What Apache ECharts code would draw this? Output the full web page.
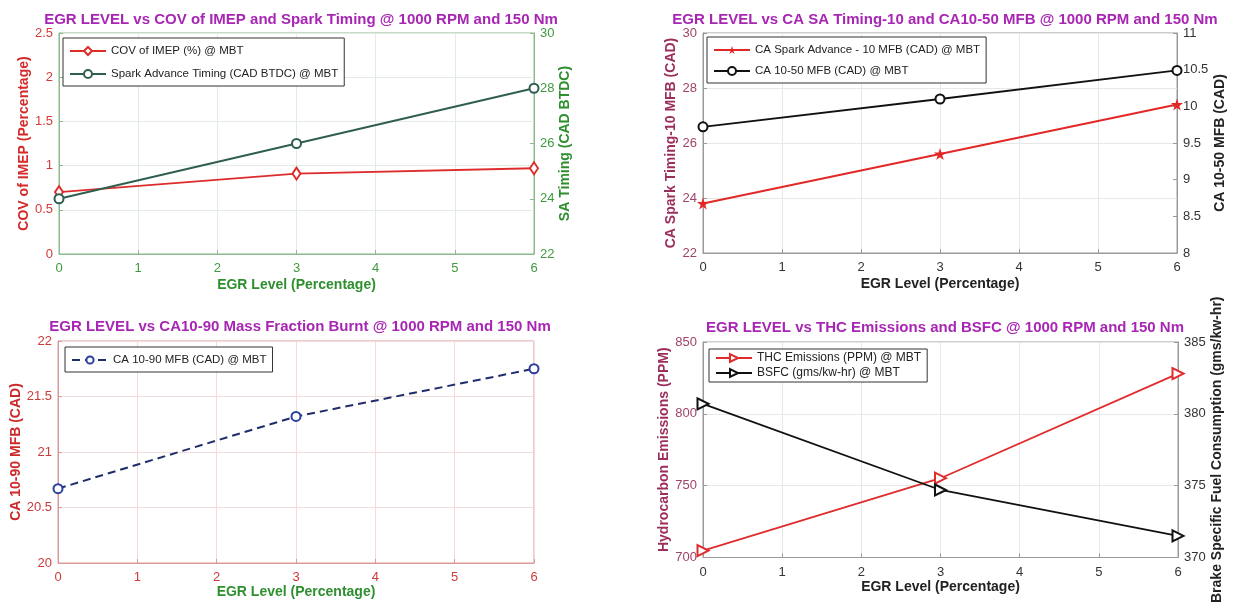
<!DOCTYPE html>
<html>
<head>
<meta charset="utf-8">
<script src="https://cdn.jsdelivr.net/npm/echarts@6/dist/echarts.min.js"></script>
<style>
  html, body { margin: 0; padding: 0; background: #fff; }
  #chart { width: 1234px; height: 605px; }
</style>
</head>
<body>
<div id="chart"></div>
<script>
// EGR sweep at 1000 RPM / 150 Nm
const egrLevels = [0, 3, 6];
const xTicks = [0, 1, 2, 3, 4, 5, 6];

const covImep = [0.70, 0.91, 0.97];          // %
const sparkAdvance = [24.0, 26.0, 28.0];     // CAD BTDC
const caSaTo10 = [23.8, 25.6, 27.4];         // CAD
const ca10to50 = [9.72, 10.10, 10.49];       // CAD
const ca10to90 = [20.67, 21.32, 21.75];      // CAD
const thcPpm = [704.8, 755.2, 828.0];        // PPM
const bsfc = [380.7, 374.7, 371.5];          // gms/kw-hr

const titles = [
  'EGR LEVEL vs COV of IMEP and Spark Timing @ 1000 RPM and 150 Nm',
  'EGR LEVEL vs CA SA Timing-10 and CA10-50 MFB @ 1000 RPM and 150 Nm',
  'EGR LEVEL vs CA10-90 Mass Fraction Burnt @ 1000 RPM and 150 Nm',
  'EGR LEVEL vs THC Emissions and BSFC @ 1000 RPM and 150 Nm'
];

const FONT = '"Liberation Sans", Arial, sans-serif';
const pts = ys => egrLevels.map((x, i) => [x, ys[i]]);
const STAR = 'path://M50,0 L61.8,35.3 L99,35.3 L69,57.1 L80.4,92.7 L50,70.6 L19.6,92.7 L31,57.1 L1,35.3 L38.2,35.3 Z';

const grids = [
  { left: 59, top: 33, width: 475, height: 221 },
  { left: 703, top: 33, width: 474, height: 220 },
  { left: 58, top: 341, width: 476, height: 222 },
  { left: 703, top: 342, width: 475, height: 221 }
];
const boxColors = ['#8fb88f', '#9a9a9a', '#d99a9a', '#9a9a9a'];

function xAxis(idx, labelColor, nameColor, gridColor, nameGap) {
  return {
    type: 'value', gridIndex: idx, min: xTicks[0], max: xTicks[xTicks.length - 1], interval: 1,
    name: 'EGR Level (Percentage)', nameLocation: 'middle', nameGap: nameGap,
    nameTextStyle: { color: nameColor, fontWeight: 'bold', fontSize: 14, fontFamily: FONT },
    axisLine: { show: true, lineStyle: { color: boxColors[idx], width: 1 } },
    axisTick: { show: true, inside: true, length: 4, lineStyle: { color: boxColors[idx] } },
    axisLabel: { color: labelColor, fontSize: 13, fontFamily: FONT, margin: 8 },
    splitLine: { show: true, lineStyle: { color: gridColor, width: 1 } }
  };
}

function yAxis(idx, pos, min, max, interval, name, color, nameColor, nameGap, gridColor) {
  return {
    type: 'value', gridIndex: idx, position: pos, min: min, max: max, interval: interval,
    name: name, nameLocation: 'middle', nameGap: nameGap, nameRotate: 90,
    nameTextStyle: { color: nameColor, fontWeight: 'bold', fontSize: 14, fontFamily: FONT },
    axisLine: { show: true, onZero: false, lineStyle: { color: boxColors[idx], width: 1 } },
    axisTick: { show: true, inside: true, length: 4, lineStyle: { color: boxColors[idx] } },
    axisLabel: { color: color, fontSize: 13, fontFamily: FONT, margin: 6 },
    splitLine: gridColor ? { show: true, lineStyle: { color: gridColor, width: 1 } } : { show: false }
  };
}

function legend(left, top, names, gap, fontSize, iconH) {
  return {
    orient: 'vertical', left: left, top: top, data: names,
    itemWidth: 36, itemHeight: iconH, itemGap: gap,
    padding: [6, 6, 5, 6],
    backgroundColor: '#fff', borderColor: '#333', borderWidth: 1, borderRadius: 0,
    textStyle: { color: '#222', fontSize: fontSize, fontFamily: FONT, lineHeight: 14 },
    selectedMode: false
  };
}

const option = {
  backgroundColor: '#fff',
  animation: false,
  title: titles.map((t, i) => ({
    text: t,
    left: [296, 940, 295, 940][i],
    top: [7, 7, 314, 315][i],
    textAlign: 'center',
    textStyle: { color: '#a826b4', fontSize: 15, fontWeight: 'bold', fontFamily: FONT }
  })),
  grid: grids.map((g, i) => Object.assign({
    show: true, borderColor: boxColors[i], borderWidth: 1, backgroundColor: 'transparent'
  }, g)),
  xAxis: [
    xAxis(0, '#3f9a3f', '#2f8f2f', '#e3ece3', 24),
    xAxis(1, '#333', '#222', '#e8e8e8', 24),
    xAxis(2, '#cc3b3b', '#2f8f2f', '#f4dcdc', 22),
    xAxis(3, '#333', '#222', '#e8e8e8', 23)
  ],
  yAxis: [
    yAxis(0, 'left', 0, 2.5, 0.5, 'COV of IMEP (Percentage)', '#d23a3a', '#d42a2a', 22, '#e3ece3'),
    yAxis(0, 'right', 22, 30, 2, 'SA Timing (CAD BTDC)', '#3f9a3f', '#2f8f2f', 23, null),
    yAxis(1, 'left', 22, 30, 2, 'CA Spark Timing-10 MFB (CAD)', '#a0446a', '#9c2e5c', 25, '#e8e8e8'),
    yAxis(1, 'right', 8, 11, 0.5, 'CA 10-50 MFB (CAD)', '#333', '#222', 36, null),
    yAxis(2, 'left', 20, 22, 0.5, 'CA 10-90 MFB (CAD)', '#cc3b3b', '#cc2a2a', 33, '#f4dcdc'),
    yAxis(3, 'left', 700, 850, 50, 'Hydrocarbon Emissions (PPM)', '#a0446a', '#9c2e5c', 32, '#e8e8e8'),
    yAxis(3, 'right', 370, 385, 5, 'Brake Specific Fuel Consumption (gms/kw-hr)', '#333', '#222', 32, null)
  ],
  legend: [
    legend(63, 38, ['COV of IMEP (%) @ MBT', 'Spark Advance Timing (CAD BTDC) @ MBT'], 9, 11.5, 10),
    legend(707, 37, ['CA Spark Advance - 10 MFB (CAD) @ MBT', 'CA 10-50 MFB (CAD) @ MBT'], 7, 11.5, 10),
    legend(65, 347, ['CA 10-90 MFB (CAD) @ MBT'], 8, 11.5, 9),
    Object.assign(legend(709, 349, ['THC Emissions (PPM) @ MBT', 'BSFC (gms/kw-hr) @ MBT'], 1, 12, 10), { padding: [2, 6, 2, 6] })
  ],
  series: [
    {
      name: 'COV of IMEP (%) @ MBT', type: 'line', xAxisIndex: 0, yAxisIndex: 0,
      data: pts(covImep), symbol: 'emptyDiamond', symbolSize: [8, 12],
      lineStyle: { color: '#dd2c2c', width: 1.8 }, itemStyle: { color: '#dd2c2c', borderWidth: 1.5 }
    },
    {
      name: 'Spark Advance Timing (CAD BTDC) @ MBT', type: 'line', xAxisIndex: 0, yAxisIndex: 1,
      data: pts(sparkAdvance), symbol: 'emptyCircle', symbolSize: 9,
      lineStyle: { color: '#2f5e50', width: 1.8 }, itemStyle: { color: '#2f5e50', borderWidth: 1.5 }
    },
    {
      name: 'CA Spark Advance - 10 MFB (CAD) @ MBT', type: 'line', xAxisIndex: 1, yAxisIndex: 2,
      data: pts(caSaTo10), symbol: STAR, symbolSize: 12,
      lineStyle: { color: '#e32727', width: 1.8 }, itemStyle: { color: '#e32727' }
    },
    {
      name: 'CA 10-50 MFB (CAD) @ MBT', type: 'line', xAxisIndex: 1, yAxisIndex: 3,
      data: pts(ca10to50), symbol: 'emptyCircle', symbolSize: 9,
      lineStyle: { color: '#111', width: 1.8 }, itemStyle: { color: '#111', borderWidth: 1.5 }
    },
    {
      name: 'CA 10-90 MFB (CAD) @ MBT', type: 'line', xAxisIndex: 2, yAxisIndex: 4,
      data: pts(ca10to90), symbol: 'emptyCircle', symbolSize: 9,
      lineStyle: { color: '#1f2e6a', width: 2, type: [8, 5] },
      itemStyle: { color: '#2b3f9e', borderWidth: 1.8 }
    },
    {
      name: 'THC Emissions (PPM) @ MBT', type: 'line', xAxisIndex: 3, yAxisIndex: 5,
      data: pts(thcPpm), symbol: 'emptyTriangle', symbolSize: 11, symbolRotate: -90,
      lineStyle: { color: '#e02c2c', width: 1.8 }, itemStyle: { color: '#e02c2c', borderWidth: 1.5 }
    },
    {
      name: 'BSFC (gms/kw-hr) @ MBT', type: 'line', xAxisIndex: 3, yAxisIndex: 6,
      data: pts(bsfc), symbol: 'emptyTriangle', symbolSize: 11, symbolRotate: -90,
      lineStyle: { color: '#111', width: 1.8 }, itemStyle: { color: '#111', borderWidth: 1.5 }
    }
  ]
};

const chart = echarts.init(document.getElementById('chart'), null, { renderer: 'canvas' });
chart.setOption(option);
</script>
</body>
</html>
